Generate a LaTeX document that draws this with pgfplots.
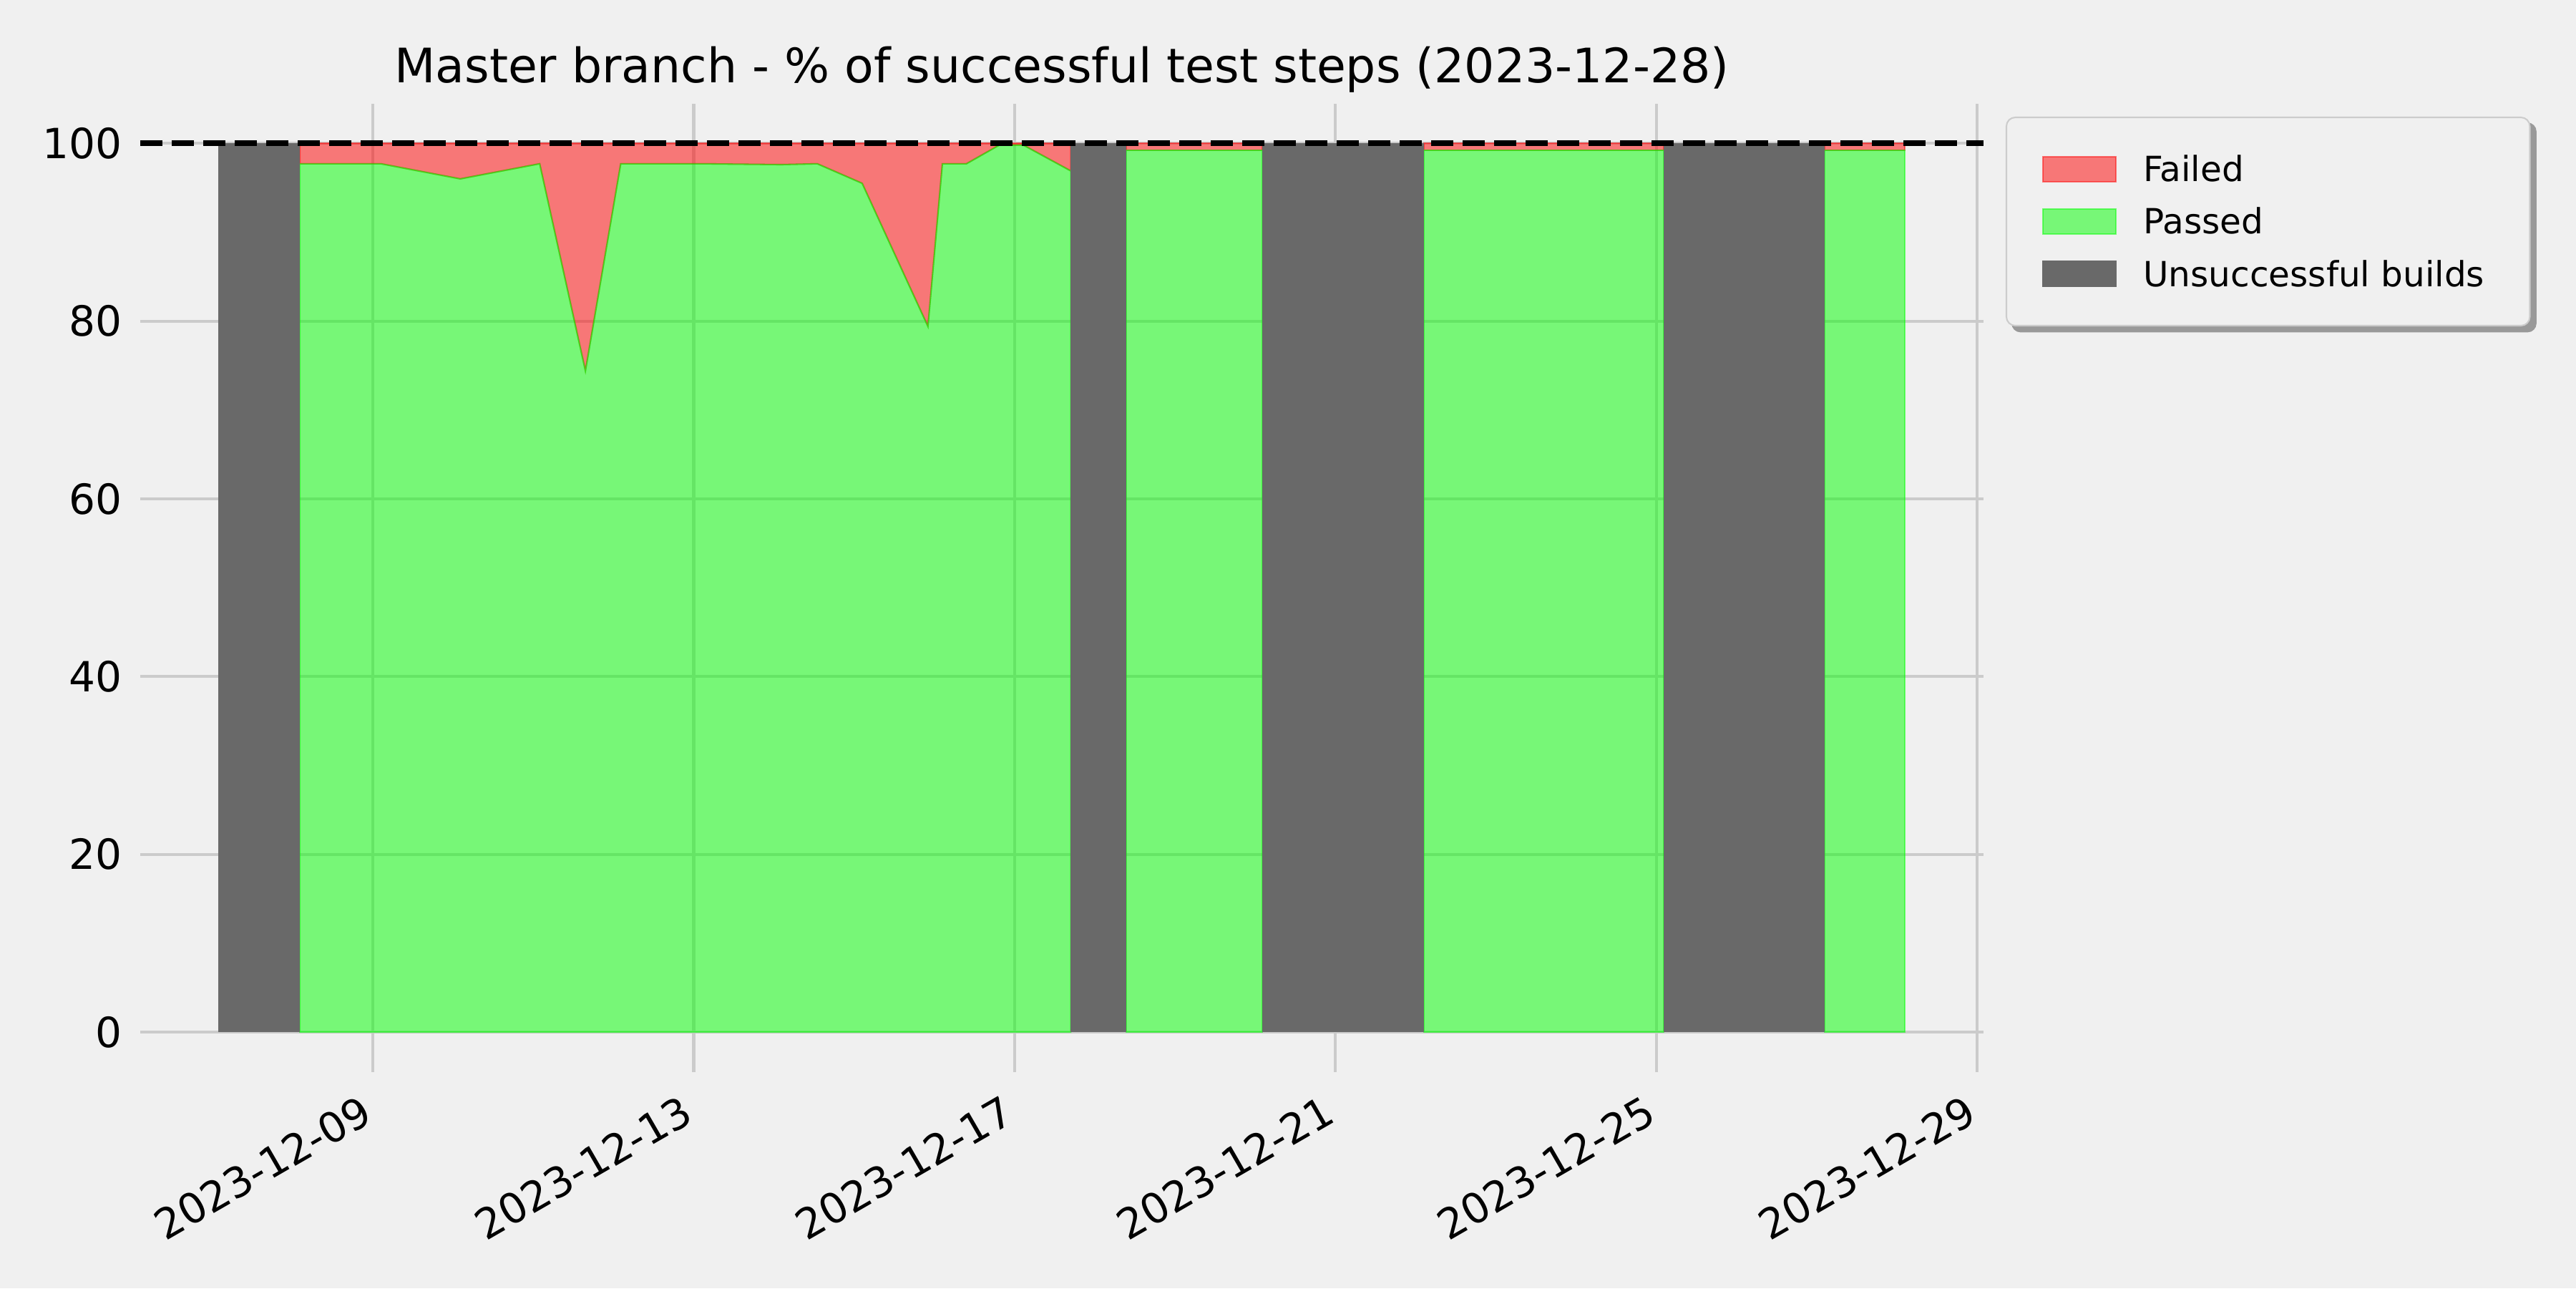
\documentclass[border=0pt]{standalone}
\usepackage{fontspec}
\setmainfont{DejaVu Sans}
\usepackage{pgfplots}
\pgfplotsset{compat=1.18}
\definecolor{bg}{HTML}{F0F0F0}
\definecolor{gridc}{HTML}{CBCBCB}
\definecolor{unsucc}{HTML}{696969}
\definecolor{legedge}{HTML}{CCCCCC}
\definecolor{shadowc}{HTML}{999999}
\pgfdeclarelayer{pagebg}
\pgfdeclarelayer{shadow}
\pgfsetlayers{pagebg,shadow,main}

\begin{document}
\begin{tikzpicture}
\begin{pgfonlayer}{pagebg}
\path[use as bounding box, fill=bg] (0,0) rectangle (12in,6in);
\end{pgfonlayer}
\begin{axis}[
  at={(0.6533in,1.0067in)}, anchor=south west,
  scale only axis, width=8.5867in, height=4.51in,
  xmin=6.10, xmax=29.08, ymin=-4.5, ymax=104.45,
  xtick={9,13,17,21,25,29},
  xticklabels={2023-12-09,2023-12-13,2023-12-17,2023-12-21,2023-12-25,2023-12-29},
  ytick={0,20,40,60,80,100},
  yticklabels={0,20,40,60,80,100},
  /pgf/number format/assume math mode=true,
  grid=major,
  major grid style={gridc, line width=1pt},
  axis line style={draw=none},
  major tick length=0pt,
  tick style={draw=none},
  ticklabel style={font=\fontsize{14}{16.8}\selectfont, inner sep=0pt},
  xticklabel style={xshift=-4.5pt, yshift=-7pt, rotate=30, anchor=north east},
  yticklabel style={xshift=-6pt, anchor=east},
  title={Master branch - \% of successful test steps (2023-12-28)},
  title style={font=\fontsize{16}{19.2}\selectfont, at={(0.5,1)}, anchor=base, yshift=1.1pt, inner sep=0pt},
  legend style={name=leg, at={(1.012,0.9867)}, anchor=north west, draw=legedge, line width=0.5pt,
    fill=bg, rounded corners=3pt, inner xsep=12pt, inner ysep=13pt,
    row sep=8.7pt, column sep=9pt,
    nodes={inner sep=0pt, text height=8.4pt, text depth=0pt, font=\fontsize{11.67}{14}\selectfont}},
  legend cell align=left,
  legend image code/.code={\draw[sharp corners, #1] (0pt,-4.2pt) rectangle (24.6pt,4.2pt);},
]
% failed (red) areas, from the passed share up to 100
\addplot[fill=red, draw=red, opacity=0.5, line width=0.5pt, forget plot] coordinates {
  (8.09,97.7) (9.10,97.7) (10.09,96.0) (11.08,97.7) (11.65,74.4) (12.09,97.7)
  (13.09,97.7) (14.09,97.6) (14.54,97.7) (15.10,95.5) (15.92,79.4) (16.10,97.7)
  (16.40,97.7) (16.81,99.8) (17.11,99.8) (17.70,96.9) (17.70,100) (8.09,100)} -- cycle;
\addplot[fill=red, draw=red, opacity=0.5, line width=0.5pt, forget plot] coordinates {
  (18.39,99.25) (19.09,99.25) (20.09,99.25) (20.09,100) (18.39,100)} -- cycle;
\addplot[fill=red, draw=red, opacity=0.5, line width=0.5pt, forget plot] coordinates {
  (22.10,99.25) (23.10,99.25) (24.10,99.25) (25.09,99.25) (25.09,100) (22.10,100)} -- cycle;
\addplot[fill=red, draw=red, opacity=0.5, line width=0.5pt, forget plot] coordinates {
  (27.10,99.25) (28.10,99.25) (28.10,100) (27.10,100)} -- cycle;
% passed (green) areas
\addplot[fill=green, draw=green, opacity=0.5, line width=0.5pt, forget plot] coordinates {
  (8.09,97.7) (9.10,97.7) (10.09,96.0) (11.08,97.7) (11.65,74.4) (12.09,97.7)
  (13.09,97.7) (14.09,97.6) (14.54,97.7) (15.10,95.5) (15.92,79.4) (16.10,97.7)
  (16.40,97.7) (16.81,99.8) (17.11,99.8) (17.70,96.9)} \closedcycle;
\addplot[fill=green, draw=green, opacity=0.5, line width=0.5pt, forget plot] coordinates {
  (18.39,99.25) (19.09,99.25) (20.09,99.25)} \closedcycle;
\addplot[fill=green, draw=green, opacity=0.5, line width=0.5pt, forget plot] coordinates {
  (22.10,99.25) (23.10,99.25) (24.10,99.25) (25.09,99.25)} \closedcycle;
\addplot[fill=green, draw=green, opacity=0.5, line width=0.5pt, forget plot] coordinates {
  (27.10,99.25) (28.10,99.25)} \closedcycle;
% unsuccessful builds
\addplot[fill=unsucc, draw=none, forget plot] coordinates {(7.07,100) (8.09,100)} \closedcycle;
\addplot[fill=unsucc, draw=none, forget plot] coordinates {(17.70,100) (18.39,100)} \closedcycle;
\addplot[fill=unsucc, draw=none, forget plot] coordinates {(20.09,100) (22.10,100)} \closedcycle;
\addplot[fill=unsucc, draw=none, forget plot] coordinates {(25.09,100) (27.10,100)} \closedcycle;
% 100 % reference
\addplot[black, line width=2pt, dash pattern=on 7.4pt off 3.2pt, forget plot] coordinates {(6.10,100) (29.08,100)};
\addlegendimage{fill=red, draw=red, opacity=0.5, line width=0.5pt}
\addlegendentry{Failed}
\addlegendimage{fill=green, draw=green, opacity=0.5, line width=0.5pt}
\addlegendentry{Passed}
\addlegendimage{fill=unsucc, draw=unsucc, line width=0.5pt}
\addlegendentry{Unsuccessful builds\kern3.3pt}
\end{axis}
\begin{pgfonlayer}{shadow}
\fill[shadowc, rounded corners=3pt] ([shift={(2pt,-2pt)}]leg.south west) rectangle ([shift={(2pt,-2pt)}]leg.north east);
\end{pgfonlayer}
\end{tikzpicture}
\end{document}
